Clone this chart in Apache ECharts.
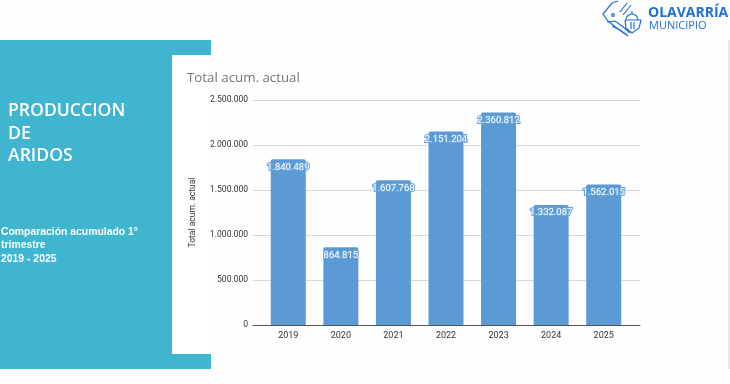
<!DOCTYPE html>
<html><head><meta charset="utf-8">
<style>html,body{margin:0;padding:0;background:#fefefe}#c{width:730px;height:384px}</style>
<script src="https://cdn.jsdelivr.net/npm/echarts@6/dist/echarts.min.js"></script>
</head><body><div id="c"></div>
<script>
const years = ['2019','2020','2021','2022','2023','2024','2025'];
const totals = [1840489,864815,1607768,2151204,2360812,1332087,1562015];
const yMax = 2500000, yStep = 500000;
const chartTitle = 'Total acum. actual';
const headingLines = 'PRODUCCION\nDE\nARIDOS';
const subLines = 'Comparación acumulado 1°\ntrimestre\n2019 - 2025';
const TEAL = '#3fb5d0', BLUE = '#5b9ad5', LOGO = '#1f6fd6';
const dots = n => String(n).replace(/\B(?=(\d{3})+$)/g,'.');
const chart = echarts.init(document.getElementById('c'),null,{renderer:'canvas'});
const logoLine = {stroke:LOGO,lineWidth:1.2,fill:'none'};
chart.setOption({
  animation:false,
  backgroundColor:'#fefefe',
  textStyle:{fontFamily:'"Open Sans",sans-serif'},
  grid:[
    {left:253,top:100,width:387,height:225},
    {left:262,top:100,width:368,height:225}
  ],
  xAxis:[
    {type:'category',gridIndex:0,data:[''],axisTick:{show:false},axisLabel:{show:false},
     axisLine:{lineStyle:{color:'#555',width:1}}},
    {type:'category',gridIndex:1,data:years,axisTick:{show:false},axisLine:{show:false},
     axisLabel:{color:'#333',fontSize:9,margin:6,fontFamily:'Roboto'}}
  ],
  yAxis:[
    {type:'value',gridIndex:0,min:0,max:yMax,interval:yStep,
     axisLine:{show:false},axisTick:{show:false},
     splitLine:{lineStyle:{color:'#d9d9d9',width:1}},
     axisLabel:{color:'#333',fontSize:8.5,margin:5,fontFamily:'Roboto',padding:[2,0,0,0],formatter:v=>dots(v)},
     name:'Total acum. actual',nameLocation:'middle',nameRotate:90,nameGap:56,
     nameTextStyle:{color:'#333',fontSize:8.5,fontFamily:'Roboto'}},
    {type:'value',gridIndex:1,min:0,max:yMax,interval:yStep,show:false,splitLine:{show:false}}
  ],
  series:[{
    type:'bar',xAxisIndex:1,yAxisIndex:1,data:totals,barWidth:35,
    itemStyle:{color:BLUE,borderRadius:[2,2,0,0]},
    label:{show:true,position:'insideTop',distance:3,color:'#fff',fontSize:9.5,fontFamily:'Roboto',
      textBorderColor:'#6aa5dc',textBorderWidth:2,formatter:p=>dots(p.value)}
  }],
  graphic:[
    {type:'rect',z:-10,shape:{x:0,y:40,width:211,height:329},style:{fill:TEAL}},
    {type:'rect',z:-9,shape:{x:172,y:55,width:39,height:299},style:{fill:'#fff'}},
    {type:'rect',z:-9,shape:{x:728,y:40,width:2,height:329},style:{fill:'#e8e8e8'}},
    {type:'text',x:187,y:72,style:{text:chartTitle,fill:'#757575',fontSize:13.3,fontFamily:'"Open Sans"'}},
    {type:'text',x:8,y:100,style:{text:headingLines,fill:'#fff',fontSize:17.6,lineHeight:22.5,fontWeight:600,fontFamily:'"Open Sans"'}},
    {type:'text',x:1,y:225,style:{text:subLines,fill:'#fff',fontSize:10.4,lineHeight:13.7,fontWeight:'bold',fontFamily:'"Liberation Sans"'}},
    {type:'text',x:648,y:6,style:{text:'OLAVARRÍA',fill:LOGO,fontSize:14,fontWeight:'bold',fontFamily:'"Open Sans"'}},
    {type:'text',x:649,y:20,style:{text:'MUNICIPIO',fill:LOGO,fontSize:11,fontFamily:'"Open Sans"'}},
    {type:'polyline',shape:{points:[[612,3],[603,14],[608,21],[618,29],[628,36]]},style:logoLine},
    {type:'polyline',shape:{points:[[612,3],[618,1]]},style:logoLine},
    {type:'polyline',shape:{points:[[607,22],[615,21],[622,26],[630,33]]},style:logoLine},
    {type:'polyline',shape:{points:[[612,26],[620,30],[627,35]]},style:logoLine},
    {type:'polyline',shape:{points:[[620,12],[627,3]]},style:logoLine},
    {type:'polyline',shape:{points:[[623,15],[631,5]]},style:logoLine},
    {type:'circle',shape:{cx:613,cy:15,r:1.3},style:logoLine},
    {type:'arc',shape:{cx:632,cy:20,r:6,startAngle:Math.PI,endAngle:0},style:logoLine},
    {type:'polyline',shape:{points:[[625,20],[641,20],[639,28],[632,33],[626,28],[625,20]]},style:logoLine},
    {type:'polyline',shape:{points:[[632,14],[632,11]]},style:logoLine},
    {type:'polyline',shape:{points:[[631,22],[631,29]]},style:logoLine},
    {type:'polyline',shape:{points:[[634,22],[634,29]]},style:logoLine}
  ]
});
</script></body></html>
